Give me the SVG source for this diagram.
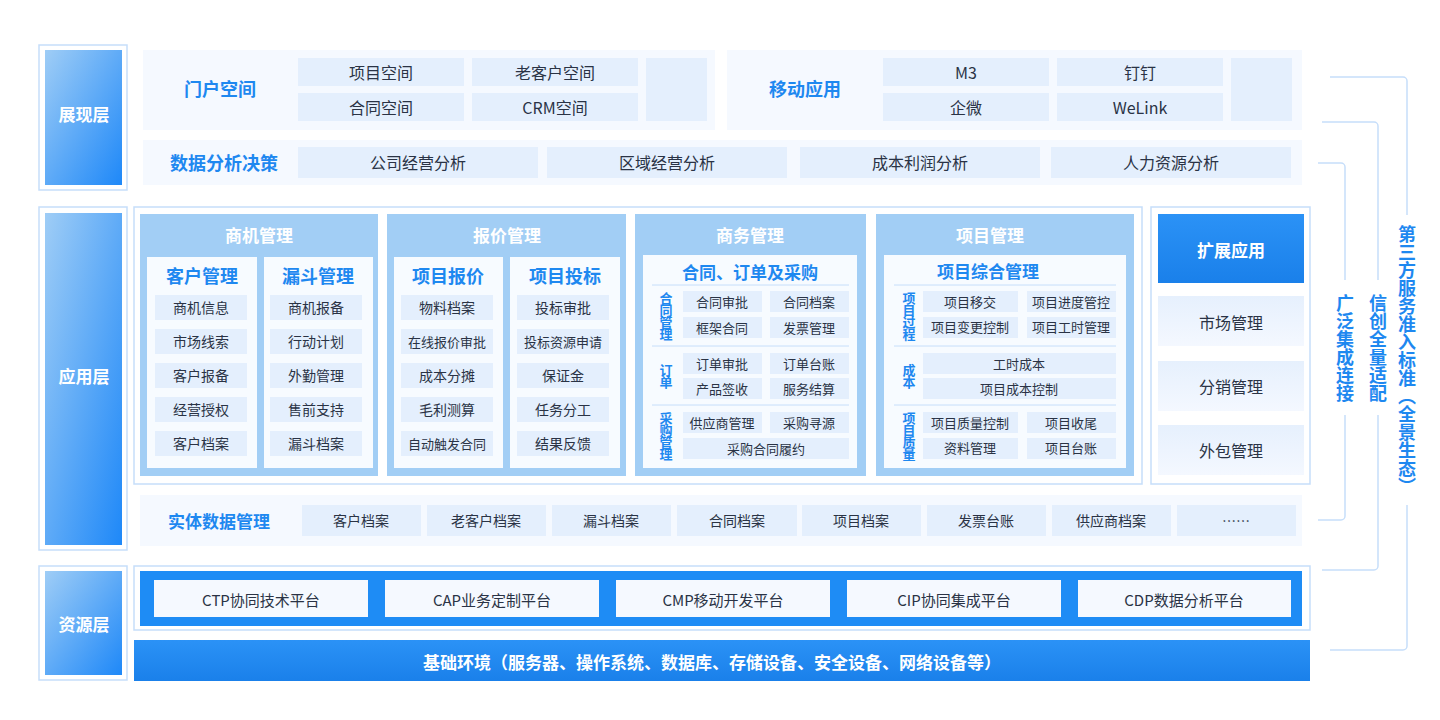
<svg xmlns="http://www.w3.org/2000/svg" width="1440" height="720" viewBox="0 0 1440 720">
<style>
text{font-family:"Noto Sans CJK SC","Liberation Sans",sans-serif;text-anchor:middle;dominant-baseline:central}
.lo{fill:#fff;stroke:#c6defa;stroke-width:1.5}
.pn{fill:#f5f9ff}
.it{fill:#e4effd}
.t{font-size:16px;fill:#2a3345}
.ts{font-size:14px;fill:#2a3345}
.tx{font-size:13px;fill:#2a3345}
.bl{font-size:18px;font-weight:bold;fill:#1e88f0}
.lw{font-size:17px;font-weight:bold;fill:#fff}
.hd{fill:#a2cef5}
.sw{fill:#f7fbff}
.vl{font-size:13px;font-weight:bold;fill:#1e88f0;writing-mode:vertical-rl;text-anchor:middle;letter-spacing:-1px}
.br{fill:none;stroke:#c6defa;stroke-width:1.5}
.vb{font-size:18px;font-weight:bold;fill:#1e88f0;writing-mode:vertical-rl;text-anchor:middle}
.sep{stroke:#c6defa;stroke-width:1}
</style>
<defs>
<linearGradient id="lg" x1="0" y1="0" x2="1" y2="1"><stop offset="0" stop-color="#9fcdf6"/><stop offset="1" stop-color="#1e88f8"/></linearGradient>
<linearGradient id="bg" x1="0" y1="0" x2="0" y2="1"><stop offset="0" stop-color="#2b92f6"/><stop offset="1" stop-color="#1a80ea"/></linearGradient>
<linearGradient id="eg" x1="0" y1="0" x2="0" y2="1"><stop offset="0" stop-color="#e6f0fd"/><stop offset="1" stop-color="#f4f8ff"/></linearGradient>
</defs>
<rect width="1440" height="720" fill="#fff"/>

<g id="layer-present"><rect class="lo" x="39" y="45" width="88" height="145"/><rect x="45" y="50" width="77" height="135" fill="url(#lg)"/><text class="lw" x="84" y="113">展现层</text></g>
<g id="layer-app"><rect class="lo" x="39" y="207" width="88" height="343"/><rect x="45" y="213" width="77" height="332" fill="url(#lg)"/><text class="lw" x="84" y="375">应用层</text></g>
<g id="layer-res"><rect class="lo" x="39" y="566" width="88" height="114"/><rect x="45" y="571" width="77" height="104" fill="url(#lg)"/><text class="lw" x="84" y="623">资源层</text></g>

<g id="portal"><rect class="pn" x="143" y="50" width="572" height="80"/><text class="bl" x="220" y="88">门户空间</text>
<rect class="it" x="298" y="58" width="166" height="28"/><text class="t" x="381" y="72">项目空间</text>
<rect class="it" x="472" y="58" width="166" height="28"/><text class="t" x="555" y="72">老客户空间</text>
<rect class="it" x="298" y="93" width="166" height="28"/><text class="t" x="381" y="107">合同空间</text>
<rect class="it" x="472" y="93" width="166" height="28"/><text class="t" x="555" y="107">CRM空间</text>
<rect class="it" x="646" y="58" width="61" height="63"/></g>
<g id="mobile"><rect class="pn" x="727" y="50" width="575" height="80"/><text class="bl" x="805" y="88">移动应用</text>
<rect class="it" x="883" y="58" width="166" height="28"/><text class="t" x="966" y="72">M3</text>
<rect class="it" x="1057" y="58" width="166" height="28"/><text class="t" x="1140" y="72">钉钉</text>
<rect class="it" x="883" y="93" width="166" height="28"/><text class="t" x="966" y="107">企微</text>
<rect class="it" x="1057" y="93" width="166" height="28"/><text class="t" x="1140" y="107">WeLink</text>
<rect class="it" x="1231" y="58" width="61" height="63"/></g>
<g id="analysis"><rect class="pn" x="143" y="140" width="1159" height="45"/><text class="bl" x="224" y="162">数据分析决策</text>
<rect class="it" x="298" y="147" width="240" height="31"/><text class="t" x="418" y="162">公司经营分析</text>
<rect class="it" x="547" y="147" width="240" height="31"/><text class="t" x="667" y="162">区域经营分析</text>
<rect class="it" x="800" y="147" width="240" height="31"/><text class="t" x="920" y="162">成本利润分析</text>
<rect class="it" x="1051" y="147" width="240" height="31"/><text class="t" x="1171" y="162">人力资源分析</text></g>

<rect class="lo" x="134" y="207" width="1008" height="277"/>
<g id="opp"><rect class="hd" x="140" y="214" width="238" height="262"/><text class="lw" x="259" y="234">商机管理</text>
<rect class="sw" x="147" y="257" width="110" height="211"/><rect class="sw" x="264" y="257" width="109" height="211"/>
<text class="bl" x="202" y="275">客户管理</text><text class="bl" x="318" y="275">漏斗管理</text>
<g class="ts">
<rect class="it" x="155" y="295" width="92" height="25"/><text class="ts" x="201" y="307">商机信息</text>
<rect class="it" x="155" y="329" width="92" height="25"/><text class="ts" x="201" y="341">市场线索</text>
<rect class="it" x="155" y="363" width="92" height="25"/><text class="ts" x="201" y="375">客户报备</text>
<rect class="it" x="155" y="397" width="92" height="25"/><text class="ts" x="201" y="409">经营授权</text>
<rect class="it" x="155" y="431" width="92" height="25"/><text class="ts" x="201" y="443">客户档案</text>
<rect class="it" x="270" y="295" width="92" height="25"/><text class="ts" x="316" y="307">商机报备</text>
<rect class="it" x="270" y="329" width="92" height="25"/><text class="ts" x="316" y="341">行动计划</text>
<rect class="it" x="270" y="363" width="92" height="25"/><text class="ts" x="316" y="375">外勤管理</text>
<rect class="it" x="270" y="397" width="92" height="25"/><text class="ts" x="316" y="409">售前支持</text>
<rect class="it" x="270" y="431" width="92" height="25"/><text class="ts" x="316" y="443">漏斗档案</text></g></g>

<g id="quote"><rect class="hd" x="387" y="214" width="239" height="262"/><text class="lw" x="507" y="234">报价管理</text>
<rect class="sw" x="394" y="257" width="109" height="211"/><rect class="sw" x="510" y="257" width="110" height="211"/>
<text class="bl" x="448" y="275">项目报价</text><text class="bl" x="565" y="275">项目投标</text>
<rect class="it" x="401" y="295" width="92" height="25"/><text class="ts" x="447" y="307">物料档案</text>
<rect class="it" x="401" y="329" width="92" height="25"/><text class="tx" x="447" y="341">在线报价审批</text>
<rect class="it" x="401" y="363" width="92" height="25"/><text class="ts" x="447" y="375">成本分摊</text>
<rect class="it" x="401" y="397" width="92" height="25"/><text class="ts" x="447" y="409">毛利测算</text>
<rect class="it" x="401" y="431" width="92" height="25"/><text class="tx" x="447" y="443">自动触发合同</text>
<rect class="it" x="517" y="295" width="92" height="25"/><text class="ts" x="563" y="307">投标审批</text>
<rect class="it" x="517" y="329" width="92" height="25"/><text class="tx" x="563" y="341">投标资源申请</text>
<rect class="it" x="517" y="363" width="92" height="25"/><text class="ts" x="563" y="375">保证金</text>
<rect class="it" x="517" y="397" width="92" height="25"/><text class="ts" x="563" y="409">任务分工</text>
<rect class="it" x="517" y="431" width="92" height="25"/><text class="ts" x="563" y="443">结果反馈</text></g>

<g id="biz"><rect class="hd" x="635" y="214" width="231" height="262"/><text class="lw" x="750" y="234">商务管理</text>
<rect class="sw" x="643" y="255" width="214" height="213"/>
<text class="bl" x="750" y="271" style="font-size:17px">合同、订单及采购</text>
<line class="sep" x1="652" y1="285" x2="849" y2="285"/><line class="sep" x1="652" y1="346" x2="849" y2="346"/><line class="sep" x1="652" y1="405" x2="849" y2="405"/>
<text class="vl" x="666" y="316">合同管理</text><text class="vl" x="666" y="376">订单</text><text class="vl" x="666" y="436">采购管理</text>
<rect class="it" x="683" y="291" width="79" height="21"/><text class="tx" x="722" y="301">合同审批</text>
<rect class="it" x="770" y="291" width="79" height="21"/><text class="tx" x="809" y="301">合同档案</text>
<rect class="it" x="683" y="317" width="79" height="21"/><text class="tx" x="722" y="327">框架合同</text>
<rect class="it" x="770" y="317" width="79" height="21"/><text class="tx" x="809" y="327">发票管理</text>
<rect class="it" x="683" y="353" width="79" height="21"/><text class="tx" x="722" y="363">订单审批</text>
<rect class="it" x="770" y="353" width="79" height="21"/><text class="tx" x="809" y="363">订单台账</text>
<rect class="it" x="683" y="378" width="79" height="21"/><text class="tx" x="722" y="388">产品签收</text>
<rect class="it" x="770" y="378" width="79" height="21"/><text class="tx" x="809" y="388">服务结算</text>
<rect class="it" x="683" y="412" width="79" height="21"/><text class="tx" x="722" y="422">供应商管理</text>
<rect class="it" x="770" y="412" width="79" height="21"/><text class="tx" x="809" y="422">采购寻源</text>
<rect class="it" x="683" y="438" width="166" height="21"/><text class="tx" x="766" y="448">采购合同履约</text></g>

<g id="proj"><rect class="hd" x="876" y="214" width="258" height="262"/><text class="lw" x="990" y="234">项目管理</text>
<rect class="sw" x="884" y="255" width="242" height="213"/>
<text class="bl" x="988" y="270" style="font-size:17px">项目综合管理</text>
<line class="sep" x1="894" y1="285" x2="1116" y2="285"/><line class="sep" x1="894" y1="346" x2="1116" y2="346"/><line class="sep" x1="894" y1="405" x2="1116" y2="405"/>
<text class="vl" x="909" y="316">项目过程</text><text class="vl" x="909" y="376">成本</text><text class="vl" x="909" y="436">项目质量</text>
<rect class="it" x="923" y="291" width="95" height="21"/><text class="tx" x="970" y="301">项目移交</text>
<rect class="it" x="1027" y="291" width="89" height="21"/><text class="tx" x="1071" y="301">项目进度管控</text>
<rect class="it" x="923" y="317" width="95" height="21"/><text class="tx" x="970" y="326">项目变更控制</text>
<rect class="it" x="1027" y="317" width="89" height="21"/><text class="tx" x="1071" y="326">项目工时管理</text>
<rect class="it" x="923" y="353" width="193" height="21"/><text class="tx" x="1019" y="363">工时成本</text>
<rect class="it" x="923" y="378" width="193" height="21"/><text class="tx" x="1019" y="388">项目成本控制</text>
<rect class="it" x="923" y="412" width="95" height="21"/><text class="tx" x="970" y="422">项目质量控制</text>
<rect class="it" x="1027" y="412" width="89" height="21"/><text class="tx" x="1071" y="422">项目收尾</text>
<rect class="it" x="923" y="438" width="95" height="21"/><text class="tx" x="970" y="447">资料管理</text>
<rect class="it" x="1027" y="438" width="89" height="21"/><text class="tx" x="1071" y="447">项目台账</text></g>

<g id="ext"><rect class="lo" x="1151" y="207" width="159" height="277"/>
<rect x="1158" y="214" width="146" height="69" fill="url(#bg)"/><text class="lw" x="1231" y="249">扩展应用</text>
<rect x="1158" y="296" width="146" height="50" fill="url(#eg)"/><text class="t" x="1231" y="322">市场管理</text>
<rect x="1158" y="361" width="146" height="50" fill="url(#eg)"/><text class="t" x="1231" y="386">分销管理</text>
<rect x="1158" y="425" width="146" height="50" fill="url(#eg)"/><text class="t" x="1231" y="450">外包管理</text></g>

<g id="entity"><rect class="pn" x="140" y="495" width="1162" height="51"/><text class="bl" x="219" y="520" style="font-size:17px">实体数据管理</text>
<rect class="it" x="302" y="505" width="119" height="31"/><text class="ts" x="361" y="520">客户档案</text>
<rect class="it" x="427" y="505" width="119" height="31"/><text class="ts" x="486" y="520">老客户档案</text>
<rect class="it" x="552" y="505" width="119" height="31"/><text class="ts" x="611" y="520">漏斗档案</text>
<rect class="it" x="677" y="505" width="120" height="31"/><text class="ts" x="737" y="520">合同档案</text>
<rect class="it" x="802" y="505" width="119" height="31"/><text class="ts" x="861" y="520">项目档案</text>
<rect class="it" x="927" y="505" width="119" height="31"/><text class="ts" x="986" y="520">发票台账</text>
<rect class="it" x="1052" y="505" width="119" height="31"/><text class="ts" x="1111" y="520">供应商档案</text>
<rect class="it" x="1177" y="505" width="119" height="31"/><text class="ts" x="1236" y="520">……</text></g>

<g id="platform"><rect class="lo" x="134" y="566" width="1176" height="64"/><rect x="140" y="571" width="1162" height="55" fill="#1e8cf5"/>
<rect fill="#f5f9ff" x="154" y="580" width="214" height="37"/><text class="t" x="261" y="599" style="font-size:15px">CTP协同技术平台</text>
<rect fill="#f5f9ff" x="385" y="580" width="214" height="37"/><text class="t" x="492" y="599" style="font-size:15px">CAP业务定制平台</text>
<rect fill="#f5f9ff" x="616" y="580" width="214" height="37"/><text class="t" x="723" y="599" style="font-size:15px">CMP移动开发平台</text>
<rect fill="#f5f9ff" x="847" y="580" width="214" height="37"/><text class="t" x="954" y="599" style="font-size:15px">CIP协同集成平台</text>
<rect fill="#f5f9ff" x="1078" y="580" width="213" height="37"/><text class="t" x="1184" y="599" style="font-size:15px">CDP数据分析平台</text></g>
<g id="base"><rect x="134" y="640" width="1176" height="41" fill="url(#bg)"/><text class="lw" x="712" y="661">基础环境（服务器、操作系统、数据库、存储设备、安全设备、网络设备等）</text></g>

<g id="connectors">
<path class="br" d="M1318 163H1341a4 4 0 0 1 4 4V280M1345 415V516a4 4 0 0 1-4 4H1318"/>
<path class="br" d="M1322 122H1374a4 4 0 0 1 4 4V280M1378 415V566a4 4 0 0 1-4 4H1322"/>
<path class="br" d="M1330 77H1403a4 4 0 0 1 4 4V215M1407 505V646a4 4 0 0 1-4 4H1330"/>
</g>
<g id="bracket-labels">
<text class="vb" x="1345" y="348">广泛集成连接</text>
<text class="vb" x="1378" y="348">信创全量适配</text>
<text class="vb" x="1407" y="360">第三方服务准入标准（全景生态）</text>
</g>
</svg>
